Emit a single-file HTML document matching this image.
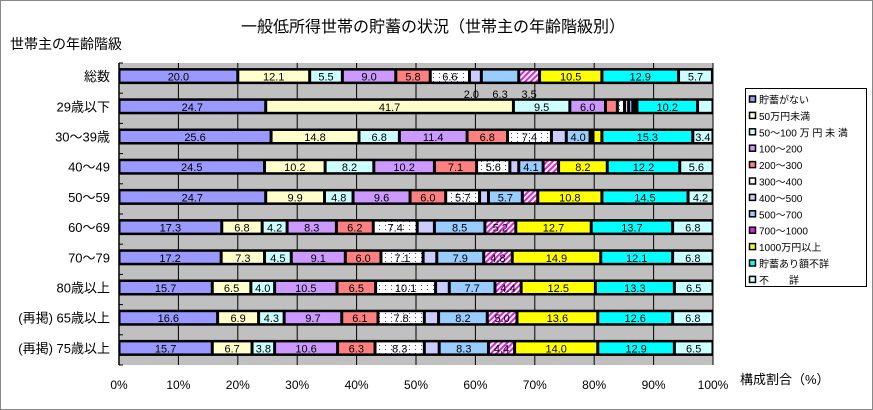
<!DOCTYPE html>
<html><head><meta charset="utf-8"><style>
body{margin:0;background:#fff;}
svg{display:block;font-family:"Liberation Sans","Noto Sans CJK JP",sans-serif;}
</style></head><body>
<svg id="c" width="873" height="410">
<rect x="0.5" y="0.5" width="872" height="409" fill="#fff" stroke="#888"/>
<text x="433" y="32" font-size="16" text-anchor="middle">一般低所得世帯の貯蓄の状況（世帯主の年齢階級別）</text>
<text x="10" y="49" font-size="14">世帯主の年齢階級</text>
<text x="740" y="384" font-size="13">構成割合（%）</text>
<defs>
<pattern id="dots" width="6" height="4" patternUnits="userSpaceOnUse"><rect width="6" height="4" fill="#fff"/><rect x="1" y="1" width="1" height="1" fill="#33f"/></pattern>
<pattern id="hatch" width="4" height="4" patternUnits="userSpaceOnUse" patternTransform="rotate(45)"><rect width="4" height="4" fill="#fff"/><rect width="2" height="4" fill="#e020e0"/></pattern>
</defs>
<g id="plot"></g>
<g id="legend"></g>
</svg>
<script>
const categories=["総数","29歳以下","30～39歳","40～49","50～59","60～69","70～79","80歳以上","(再掲) 65歳以上","(再掲) 75歳以上"];
const seriesNames=["貯蓄がない","50万円未満","50～100 万 円 未 満","100～200","200～300","300～400","400～500","500～700","700～1000","1000万円以上","貯蓄あり額不詳","不　　詳"];
const s0=[20.0,24.7,25.6,24.5,24.7,17.3,17.2,15.7,16.6,15.7];
const s1=[12.1,41.7,14.8,10.2,9.9,6.8,7.3,6.5,6.9,6.7];
const s2=[5.5,9.5,6.8,8.2,4.8,4.2,4.5,4.0,4.3,3.8];
const s3=[9.0,6.0,11.4,10.2,9.6,8.3,9.1,10.5,9.7,10.6];
const s4=[5.8,2.0,6.8,7.1,6.0,6.2,6.0,6.5,6.1,6.3];
const s5=[6.6,1.2,7.4,5.6,5.7,7.4,7.1,10.1,7.8,8.3];
const s6=[2.0,0.7,2.5,1.5,1.5,2.9,2.3,2.3,2.4,2.5];
const s7=[6.3,0.7,4.0,4.1,5.7,8.5,7.9,7.7,8.2,8.3];
const s8=[3.5,0.3,0.5,2.6,2.6,5.2,4.8,4.4,5.0,4.4];
const s9=[10.5,0.4,1.5,8.2,10.8,12.7,14.9,12.5,13.6,14.0];
const s10=[12.9,10.2,15.3,12.2,14.5,13.7,12.1,13.3,12.6,12.9];
const s11=[5.7,2.6,3.4,5.6,4.2,6.8,6.8,6.5,6.8,6.5];
const series=[s0,s1,s2,s3,s4,s5,s6,s7,s8,s9,s10,s11];
const xTicks=[0,10,20,30,40,50,60,70,80,90,100];
const fills=["#9999ff","#ffffcc","#ccffff","#cc99ff","#ff8080","url(#dots)","#ccccff","#99ccff","url(#hatch)","#ffff00","#00ffff","#ccffff"];
const legendFills=["#9999ff","#ffffcc","#ccffff","#cc99ff","#ff8080","#fff","#ccccff","#99ccff","#e020e0","#ffff00","#00ffff","#ccffff"];
const NS="http://www.w3.org/2000/svg";
const X0=119,X1=713,Y0=63,Y1=365;
const band=(Y1-Y0)/categories.length;
const xs=v=>X0+(X1-X0)*v/100;
const yc=i=>Y0+band*i+band/2;
function mk(tag,at,parent){const e=document.createElementNS(NS,tag);for(const k in at)e.setAttribute(k,at[k]);parent.appendChild(e);return e;}
const plot=document.getElementById('plot');
const bg=mk('rect',{x:X0,y:Y0,width:X1-X0,height:Y1-Y0,fill:'#c0c0c0'},plot);


xTicks.forEach(t=>{
 const l=mk('line',{x1:xs(t),x2:xs(t),y1:Y0,y2:Y1,stroke:'#000','stroke-width':1},plot);
 
 
 const tx=mk('text',{x:xs(t),y:389,'font-size':12,'text-anchor':'middle'},plot);
 tx.textContent=t+'%';
 
 
});
for(let i=0;i<=categories.length;i++){
 const tk=mk('line',{x1:X0,x2:X0+4,y1:Y0+band*i,y2:Y0+band*i,stroke:'#000'},plot);
 
 
}
mk('line',{x1:X0,x2:X0,y1:Y0,y2:Y1,stroke:'#000','stroke-width':1.5},plot);
categories.forEach((c,i)=>{
 const y=yc(i)-2;
 const lab=mk('text',{x:110,y:y+5,'font-size':13,'text-anchor':'end'},plot);
 lab.textContent=c;
 
 
 const bb=mk('rect',{x:X0,y:y-8,width:X1-X0,height:16,fill:'#000'},plot);
 
 
 let acc=0;
 const below=[];
 series.forEach((s,k)=>{
  const v=s[i];const a=xs(acc),b=xs(acc+v);acc+=v;
  const w=Math.max(0,b-a-3);
  const r=mk('rect',{x:a+1.5,y:y-5.5,width:w,height:11,fill:fills[k]},plot);
  
  
  const cx=(a+b)/2;
  if(i===0&&(k===6||k===7||k===8)){below.push([cx,v]);return;}
  if(v>=3.4&&k!==6){
   const t=mk('text',{x:cx,y:y+4.5,'font-size':11,'text-anchor':'middle',fill:'#000'},plot);
   t.textContent=v.toFixed(1);
   
   
  }
 });
 below.forEach(([cx,v],j)=>{
  const t=mk('text',{x:cx+(j===0?-4:0),y:y+22,'font-size':11,'text-anchor':'middle'},plot);
  t.textContent=v.toFixed(1);
  
  
 });
});
const lg=document.getElementById('legend');
const lb=mk('rect',{x:745.5,y:88.5,width:121,height:198,fill:'#fff',stroke:'#000'},lg);


seriesNames.forEach((n,k)=>{
 const y=100+k*16.4;
 const sw=mk('rect',{x:749.5,y:y-4,width:6,height:6,fill:legendFills[k],stroke:'#000','stroke-width':1.5},lg);
 
 
 const t=mk('text',{x:759,y:y+3.5,'font-size':10},lg);
 t.textContent=n;
 
 
});
</script>
</body></html>
